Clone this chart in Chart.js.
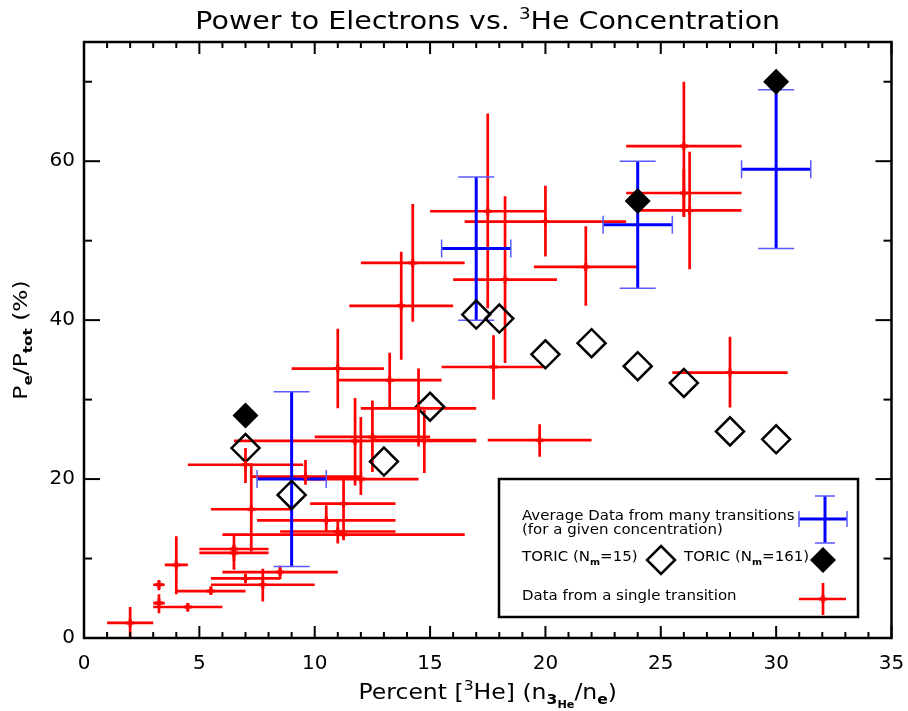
<!DOCTYPE html>
<html>
<head>
<meta charset="utf-8">
<script src="https://cdn.jsdelivr.net/npm/chart.js@4.4.1/dist/chart.umd.min.js"></script>
<style>
  html, body { margin:0; padding:0; background:#fff; }
</style>
</head>
<body>
<canvas id="myChart" width="908" height="711"></canvas>
<script>
const FONT = '"DejaVu Sans", "Liberation Sans", sans-serif';

// single transitions (red): centre, then low/high ends of the bars
const redX   = [2.0, 3.25, 3.25, 4.5, 4.0, 5.5, 8.5, 7.0, 7.75, 6.5, 6.5, 7.25, 7.0, 9.6, 12.0, 11.25, 10.5, 11.0, 11.25,
                11.75, 12.5, 14.75, 14.5, 13.25, 11.0, 13.75, 14.25, 17.5, 18.25, 20.0, 21.75, 17.75, 19.75, 26.0, 26.0, 26.25, 28.0];
const redY   = [1.9, 6.7, 4.4, 3.9, 9.2, 5.9, 8.3, 7.5, 6.7, 11.2, 10.7, 16.2, 21.8, 20.3, 20.0, 16.9, 14.8, 13.4, 13.0,
                24.8, 25.3, 24.9, 28.9, 32.45, 33.9, 41.8, 47.2, 53.7, 45.1, 52.4, 46.7, 34.1, 24.9, 61.9, 56.0, 53.8, 33.4];
const redXLo = [1.0, 3.0, 3.0, 3.0, 3.5, 4.0, 6.0, 5.5, 5.5, 5.0, 5.0, 5.5, 4.5, 7.2, 9.5, 9.8, 7.5, 8.5, 6.0,
                6.5, 10.0, 12.5, 12.0, 11.0, 9.0, 11.5, 12.0, 15.0, 16.0, 16.5, 19.5, 15.5, 17.5, 23.5, 23.5, 24.0, 25.5];
const redXHi = [3.0, 3.5, 3.5, 6.0, 4.5, 7.0, 11.0, 8.5, 10.0, 8.0, 8.0, 9.0, 9.5, 12.0, 14.5, 13.5, 13.5, 13.5, 16.5,
                17.0, 15.0, 17.0, 17.0, 15.5, 13.0, 16.0, 16.5, 20.0, 20.5, 23.5, 24.0, 20.0, 22.0, 28.5, 28.5, 28.5, 30.5];
const redYLo = [0.0, 6.0, 3.1, 3.3, 5.5, 5.4, 7.4, 6.9, 4.6, 8.6, 9.7, 10.9, 19.5, 19.3, 18.0, 12.6, 13.4, 11.9, 12.3,
                19.2, 20.9, 20.75, 24.1, 28.9, 28.9, 35.0, 39.8, 41.5, 34.6, 48.0, 41.8, 30.0, 22.8, 53.0, 53.0, 46.4, 29.0];
const redYHi = [3.9, 7.3, 5.5, 4.4, 12.8, 6.5, 9.1, 8.1, 8.7, 13.0, 11.7, 22.0, 23.9, 22.4, 27.8, 19.9, 16.7, 14.7, 13.7,
                30.2, 29.9, 28.7, 33.9, 35.9, 38.9, 48.6, 54.6, 66.0, 55.6, 56.9, 51.8, 38.1, 26.9, 70.0, 59.0, 61.2, 37.9];

// averages over many transitions (blue)
const avgX   = [9, 17, 24, 30];
const avgY   = [20, 49, 52, 59];
const avgXLo = [7.5, 15.5, 22.5, 28.5];
const avgXHi = [10.5, 18.5, 25.5, 31.5];
const avgYLo = [9, 40, 44, 49];
const avgYHi = [31, 58, 60, 69];

// TORIC results
const toric15X  = [7, 9, 13, 15, 17, 18, 20, 22, 24, 26, 28, 30];
const toric15Y  = [23.9, 18.0, 22.2, 29.1, 40.7, 40.2, 35.7, 37.1, 34.2, 32.1, 26.0, 25.0];
const toric161X = [7, 24, 30];
const toric161Y = [28, 55, 70];

const xTicks = [0, 5, 10, 15, 20, 25, 30, 35];
const yTicks = [0, 20, 40, 60];

function pts(xs, ys) { return xs.map((v, i) => ({x: v, y: ys[i]})); }

function line(ctx, x0, y0, x1, y1) {
  ctx.beginPath(); ctx.moveTo(x0, y0); ctx.lineTo(x1, y1); ctx.stroke();
}

// text with sub/superscripts: parts = [text, size, dy, bold]; sx stretches it sideways (Hershey look)
function richText(ctx, parts, x, y, align, sx) {
  sx = sx || 1;
  let w = 0;
  parts.forEach(p => { ctx.font = (p[3] ? 'bold ' : '') + p[1] + 'px ' + FONT; w += ctx.measureText(p[0]).width; });
  ctx.save();
  ctx.translate(align === 'center' ? x - w * sx / 2 : x, y);
  ctx.scale(sx, 1);
  ctx.textAlign = 'left'; ctx.textBaseline = 'alphabetic';
  let cx = 0;
  parts.forEach(p => {
    ctx.font = (p[3] ? 'bold ' : '') + p[1] + 'px ' + FONT;
    ctx.fillText(p[0], cx, p[2]);
    cx += ctx.measureText(p[0]).width;
  });
  ctx.restore();
}

const errorBars = {
  id: 'errorBars',
  beforeDatasetsDraw(chart) {
    const {ctx, chartArea: a, scales: {x, y}} = chart;
    ctx.save();
    ctx.beginPath(); ctx.rect(a.left, a.top, a.right - a.left, a.bottom - a.top); ctx.clip();
    chart.data.datasets.forEach(ds => {
      const e = ds.err;
      if (!e) return;
      ds.data.forEach((p, i) => {
        const px = x.getPixelForValue(p.x), py = y.getPixelForValue(p.y);
        const x0 = x.getPixelForValue(e.xLo[i]), x1 = x.getPixelForValue(e.xHi[i]);
        const y0 = y.getPixelForValue(e.yLo[i]), y1 = y.getPixelForValue(e.yHi[i]);
        ctx.strokeStyle = e.color; ctx.lineWidth = e.width; ctx.lineCap = 'butt';
        line(ctx, x0, py, x1, py);
        line(ctx, px, y0, px, y1);
        if (e.cap) {
          ctx.strokeStyle = e.capColor; ctx.lineWidth = 1.5;
          line(ctx, px - e.cap, y0, px + e.cap, y0);
          line(ctx, px - e.cap, y1, px + e.cap, y1);
          line(ctx, x0, py - e.cap / 2, x0, py + e.cap / 2);
          line(ctx, x1, py - e.cap / 2, x1, py + e.cap / 2);
        }
      });
    });
    ctx.restore();
  }
};

const frame = {
  id: 'frame',
  afterDraw(chart) {
    const {ctx, chartArea: a, scales: {x, y}} = chart;
    ctx.save();
    ctx.strokeStyle = '#000';
    ctx.lineWidth = 2;
    for (let v = 0; v <= 35; v++) {
      const px = x.getPixelForValue(v), len = v % 5 === 0 ? 12 : 6;
      line(ctx, px, a.bottom, px, a.bottom - len);
      line(ctx, px, a.top, px, a.top + len);
    }
    for (let v = 0; v <= 70; v += 10) {
      const py = y.getPixelForValue(v), len = v % 20 === 0 ? 16 : 8;
      line(ctx, a.left, py, a.left + len, py);
      line(ctx, a.right, py, a.right - len, py);
    }
    ctx.lineWidth = 2.5;
    ctx.strokeRect(a.left, a.top, a.right - a.left, a.bottom - a.top);

    ctx.fillStyle = '#000';
    // title
    richText(ctx, [['Power to Electrons vs. ', 25, 0], ['3', 16, -10], ['He Concentration', 25, 0]],
             (a.left + a.right) / 2, 29, 'center', 1.14);
    // x title
    richText(ctx, [['Percent [', 21, 0], ['3', 14, -9], ['He] (n', 21, 0], ['3', 14, 5, true],
                   ['He', 10, 9, true], ['/n', 21, 0], ['e', 14, 5, true], [')', 21, 0]],
             (a.left + a.right) / 2, 699, 'center', 1.12);
    // y title
    ctx.save();
    ctx.translate(27, (a.top + a.bottom) / 2);
    ctx.rotate(-Math.PI / 2);
    richText(ctx, [['P', 20, 0], ['e', 13, 5, true], ['/P', 20, 0], ['tot', 13, 5, true], [' (%)', 20, 0]],
             0, 0, 'center', 1.17);
    ctx.restore();

    // legend box
    ctx.fillStyle = '#fff';
    ctx.fillRect(499, 479, 359, 138);
    ctx.strokeStyle = '#000'; ctx.lineWidth = 2.5;
    ctx.strokeRect(499, 479, 359, 138);
    ctx.fillStyle = '#000';
    const LS = 1.07;
    richText(ctx, [['Average Data from many transitions', 14, 0]], 522, 520, 'left', LS);
    richText(ctx, [['(for a given concentration)', 14, 0]], 522, 534, 'left', LS);
    richText(ctx, [['TORIC (N', 14, 0], ['m', 9, 4, true], ['=15)', 14, 0]], 522, 561, 'left', LS);
    richText(ctx, [['TORIC (N', 14, 0], ['m', 9, 4, true], ['=161)', 14, 0]], 684, 561, 'left', LS);
    richText(ctx, [['Data from a single transition', 14, 0]], 522, 600, 'left', LS);

    // legend symbols
    ctx.strokeStyle = '#0000ff'; ctx.lineWidth = 3;
    line(ctx, 825, 496, 825, 543); line(ctx, 799, 519, 847, 519);
    ctx.strokeStyle = '#5a5aff'; ctx.lineWidth = 1.5;
    line(ctx, 815, 496, 835, 496); line(ctx, 815, 543, 835, 543);
    line(ctx, 799, 511, 799, 527); line(ctx, 847, 511, 847, 527);

    ctx.strokeStyle = '#000'; ctx.lineWidth = 2.5;
    ctx.beginPath(); ctx.moveTo(661, 546); ctx.lineTo(675, 560); ctx.lineTo(661, 574); ctx.lineTo(647, 560); ctx.closePath(); ctx.stroke();
    ctx.fillStyle = '#000';
    ctx.beginPath(); ctx.moveTo(823, 547); ctx.lineTo(836, 560); ctx.lineTo(823, 573); ctx.lineTo(810, 560); ctx.closePath(); ctx.fill();

    ctx.strokeStyle = '#ff0000'; ctx.lineWidth = 2.7;
    line(ctx, 823, 583, 823, 615); line(ctx, 799, 599, 846, 599);
    ctx.lineWidth = 3;
    line(ctx, 819, 599, 827, 599); line(ctx, 823, 595, 823, 603);
    ctx.restore();
  }
};

new Chart(document.getElementById('myChart'), {
  type: 'scatter',
  data: {
    datasets: [
      {
        label: 'Data from a single transition',
        data: pts(redX, redY),
        pointStyle: 'cross', pointRadius: 4, borderWidth: 3,
        borderColor: '#ff0000', backgroundColor: '#ff0000',
        err: {xLo: redXLo, xHi: redXHi, yLo: redYLo, yHi: redYHi, color: '#ff0000', width: 2.7}
      },
      {
        label: 'Average Data from many transitions',
        data: pts(avgX, avgY),
        pointRadius: 0, borderColor: '#0000ff',
        err: {xLo: avgXLo, xHi: avgXHi, yLo: avgYLo, yHi: avgYHi, color: '#0000ff', width: 3, cap: 18, capColor: '#5a5aff'}
      },
      {
        label: 'TORIC (Nm=15)',
        data: pts(toric15X, toric15Y),
        pointStyle: 'rectRot', pointRadius: 14, borderWidth: 2.5,
        borderColor: '#000', backgroundColor: 'rgba(0,0,0,0)'
      },
      {
        label: 'TORIC (Nm=161)',
        data: pts(toric161X, toric161Y),
        pointStyle: 'rectRot', pointRadius: 13, borderWidth: 0,
        borderColor: '#000', backgroundColor: '#000'
      }
    ]
  },
  options: {
    responsive: false,
    animation: false,
    layout: { padding: { top: 42, right: 16, left: 0, bottom: 0 } },
    plugins: { legend: { display: false }, tooltip: { enabled: false } },
    scales: {
      x: {
        type: 'linear', min: 0, max: 35,
        afterBuildTicks: s => { s.ticks = xTicks.map(v => ({value: v})); },
        afterFit: s => { s.height = 73; s.paddingLeft = 0; s.paddingRight = 0; },
        grid: { display: false, drawTicks: false },
        border: { display: false },
        ticks: { color: '#000', font: { family: FONT, size: 20 }, padding: 14, maxRotation: 0, autoSkip: false }
      },
      y: {
        type: 'linear', min: 0, max: 75,
        afterBuildTicks: s => { s.ticks = yTicks.map(v => ({value: v})); },
        afterFit: s => { s.width = 84; s.paddingTop = 0; s.paddingBottom = 0; },
        grid: { display: false, drawTicks: false },
        border: { display: false },
        ticks: { color: '#000', font: { family: FONT, size: 20 }, padding: 9, autoSkip: false }
      }
    }
  },
  plugins: [errorBars, frame]
});
</script>
</body>
</html>
